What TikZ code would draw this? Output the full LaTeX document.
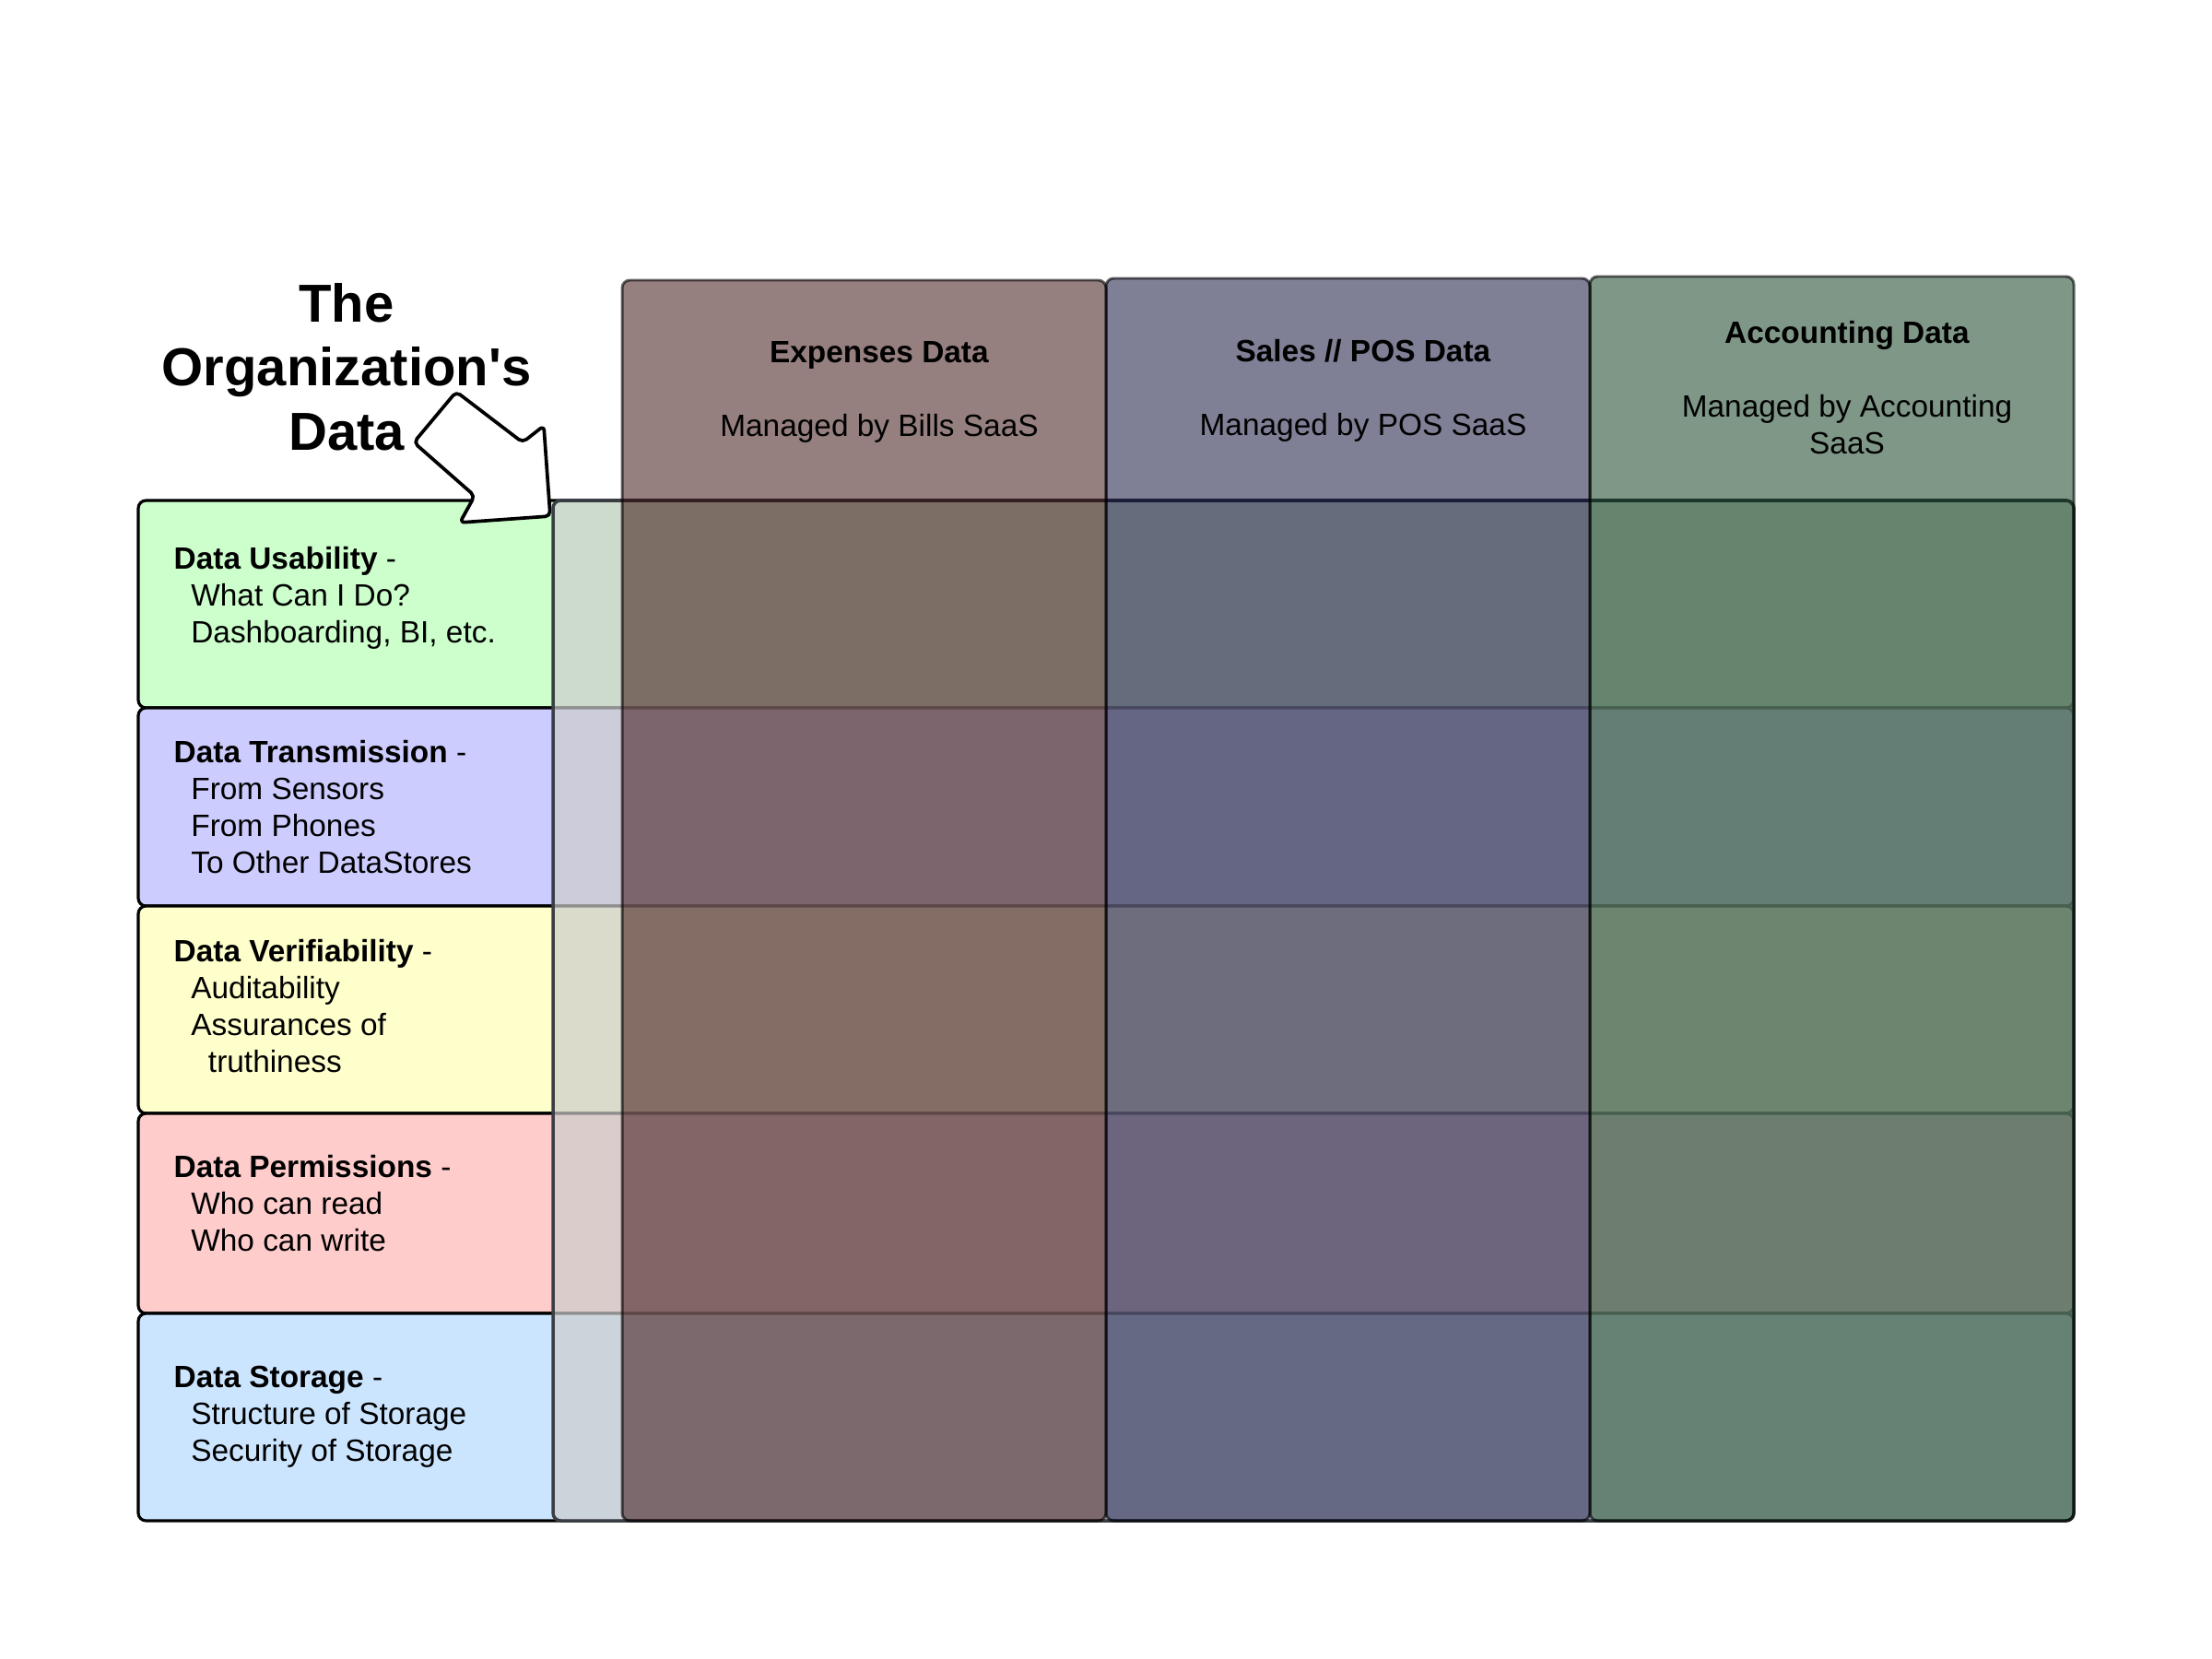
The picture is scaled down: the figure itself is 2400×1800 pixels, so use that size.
\documentclass[tikz,border=0pt]{standalone}
\usepackage{fontspec}
\setmainfont{Liberation Sans}
\definecolor{rowgreen}{RGB}{204,255,204}
\definecolor{rowlav}{RGB}{204,204,255}
\definecolor{rowyel}{RGB}{255,255,204}
\definecolor{rowpink}{RGB}{255,204,204}
\definecolor{rowblue}{RGB}{204,229,255}
\definecolor{ovgray}{RGB}{205,205,205}
\definecolor{ovline}{RGB}{58,62,68}
\definecolor{expcol}{RGB}{45,0,0}
\definecolor{salcol}{RGB}{0,0,47}
\definecolor{acccol}{RGB}{0,49,17}
\tikzset{
  rowbox/.style={draw=black, line width=0.9pt, rounded corners=2.4pt},
  ovbox/.style={fill=ovgray, fill opacity=0.7, draw=ovline, line width=1pt, rounded corners=2.4pt},
  colbox/.style={draw=black, draw opacity=0.6, fill opacity=0.5, line width=0.85pt, rounded corners=2.4pt},
  bigarrow/.style={draw=black, fill=white, line width=1.05pt, rounded corners=1.5pt, line join=round},
  rowtxt/.style={inner sep=0pt, anchor=base west, font=\fontsize{9.5}{11.4}\selectfont},
  hdrtxt/.style={inner sep=0pt, anchor=base, font=\fontsize{9.5}{11.4}\selectfont},
  titletxt/.style={inner sep=0pt, anchor=base, font=\fontsize{16.5}{19.8}\selectfont\bfseries}
}
\begin{document}
\begin{tikzpicture}[x=0.01cm, y=-0.01cm]
\fill[white] (0,0) rectangle (2400,1800);
\useasboundingbox (0,0) rectangle (2400,1800);

% rows
\draw[rowbox, fill=rowgreen] (150,543) rectangle (2250,768);
\draw[rowbox, fill=rowlav]   (150,768) rectangle (2250,983);
\draw[rowbox, fill=rowyel]   (150,983) rectangle (2250,1208);
\draw[rowbox, fill=rowpink]  (150,1208) rectangle (2250,1425);
\draw[rowbox, fill=rowblue]  (150,1425) rectangle (2250,1650);

% arrow
\draw[bigarrow] (449,480) -- (495,425) -- (567,480) -- (590,462) -- (597,560) -- (499,567) -- (515,538) -- cycle;

% organisation overlay
\draw[ovbox] (600,543) rectangle (2250,1650);

% columns
\draw[colbox, fill=expcol] (675,304) rectangle (1200,1650);
\draw[colbox, fill=salcol] (1200,302) rectangle (1725,1650);
\draw[colbox, fill=acccol] (1725,300) rectangle (2250,1650);

% title
\node[titletxt] (title) at (376,349) {\begin{tabular}[t]{@{}c@{}}The\\Organization\textquotesingle s\\Data\end{tabular}};

% column headers
\node[hdrtxt] (hexp) at (954,393) {\begin{tabular}[t]{@{}c@{}}\textbf{Expenses Data}\\ \\Managed by Bills SaaS\end{tabular}};
\node[hdrtxt] (hsal) at (1479,392) {\begin{tabular}[t]{@{}c@{}}\textbf{Sales // POS Data}\\ \\Managed by POS SaaS\end{tabular}};
\node[hdrtxt] (hacc) at (2004,372) {\begin{tabular}[t]{@{}c@{}}\textbf{Accounting Data}\\ \\Managed by Accounting\\SaaS\end{tabular}};

% row labels
\node[rowtxt] (lusab) at (188,617) {\begin{tabular}[t]{@{}l@{}}\textbf{Data Usability} -\\\hspace*{5.3pt}What Can I Do?\\\hspace*{5.3pt}Dashboarding, BI, etc.\end{tabular}};
\node[rowtxt] (ltrans) at (188,827) {\begin{tabular}[t]{@{}l@{}}\textbf{Data Transmission} -\\\hspace*{5.3pt}From Sensors\\\hspace*{5.3pt}From Phones\\\hspace*{5.3pt}To Other DataStores\end{tabular}};
\node[rowtxt] (lverif) at (188,1043) {\begin{tabular}[t]{@{}l@{}}\textbf{Data Verifiability} -\\\hspace*{5.3pt}Auditability\\\hspace*{5.3pt}Assurances of\\\hspace*{10.6pt}truthiness\end{tabular}};
\node[rowtxt] (lperm) at (188,1277) {\begin{tabular}[t]{@{}l@{}}\textbf{Data Permissions} -\\\hspace*{5.3pt}Who can read\\\hspace*{5.3pt}Who can write\end{tabular}};
\node[rowtxt] (lstor) at (188,1505) {\begin{tabular}[t]{@{}l@{}}\textbf{Data Storage} -\\\hspace*{5.3pt}Structure of Storage\\\hspace*{5.3pt}Security of Storage\end{tabular}};
\end{tikzpicture}
\end{document}
